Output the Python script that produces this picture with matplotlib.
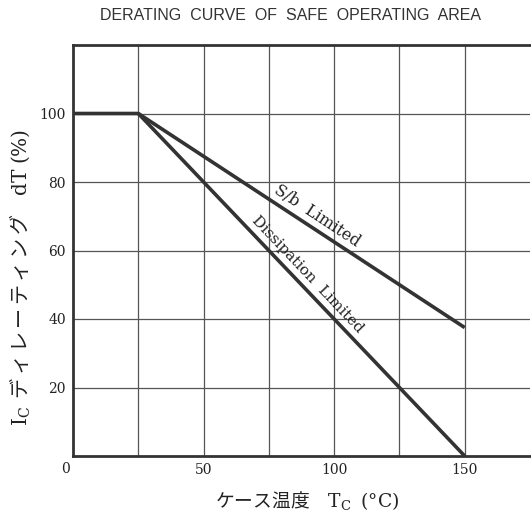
import numpy as np
import matplotlib
matplotlib.use('Agg')
import matplotlib.pyplot as plt

plt.rcParams['mathtext.fontset'] = 'dejavuserif'

# data
sb_x = [0, 25, 150]
sb_y = [100, 100, 37.5]
diss_x = [25, 150]
diss_y = [100, 0]
x_grid = [0, 25, 50, 75, 100, 125, 150, 175]
y_grid = [0, 20, 40, 60, 80, 100, 120]
x_labels = [50, 100, 150]
y_labels = [20, 40, 60, 80, 100]

serif = ['DejaVu Serif']
jp = ['Noto Sans CJK JP', 'DejaVu Serif']
ink = '#333333'
txt = '#222222'

fig = plt.figure(figsize=(5.31, 5.15), dpi=100)
ax = fig.add_axes([73/531, 59/515, 457/531, 411/515])
ax.set_xlim(0, 175)
ax.set_ylim(0, 120)

for x in x_grid[1:-1]:
    ax.axvline(x, color='#555555', lw=0.9, zorder=1)
for y in y_grid[1:-1]:
    ax.axhline(y, color='#555555', lw=0.9, zorder=1)

ax.plot(sb_x, sb_y, color=ink, lw=2.6, solid_capstyle='butt', zorder=3)
ax.plot(diss_x, diss_y, color=ink, lw=2.6, solid_capstyle='butt', zorder=3)

for s in ['left', 'bottom', 'top']:
    ax.spines[s].set_linewidth(2.0)
    ax.spines[s].set_color(ink)
ax.spines['right'].set_visible(False)

ax.set_xticks(x_labels)
ax.set_xticklabels([str(v) for v in x_labels], family=serif, fontsize=10)
ax.set_yticks(y_labels)
ax.set_yticklabels([str(v) for v in y_labels], family=serif, fontsize=10)
ax.tick_params(length=0, pad=5, colors=txt)
ax.text(-3, -1.8, '0', family=serif, fontsize=10, color=txt,
        ha='center', va='top', clip_on=False)

ax.text(93.5, 70.0, 'S/b  Limited', family=serif, fontsize=11.5, color=txt,
        rotation=-33.4, rotation_mode='anchor', ha='center', va='center')
ax.text(89.6, 52.9, 'Dissipation  Limited', family=serif, fontsize=11, color=txt,
        rotation=-46.5, rotation_mode='anchor', ha='center', va='center')

fig.text(290/531, 1 - 16/515, 'DERATING  CURVE  OF  SAFE  OPERATING  AREA',
         family=['Liberation Sans'], fontsize=11.5, color='#333333',
         ha='center', va='center')

# katakana in the reference are set with a little gap between them
kana = r'$\,$'.join('ディレーティング')
fig.text(20/531, 1 - 277/515,
         r'$\mathrm{I_C}\;\,$' + kana + r'$\quad\mathrm{dT\;(\%)}$', family=jp,
         fontsize=14.5, color=txt, rotation=90, ha='center', va='center')
fig.text(307/531, 1 - 500/515, r'ケース温度　$\mathrm{T_C}\;\;\mathrm{(°C)}$',
         family=jp, fontsize=13.5, color=txt, ha='center', va='center')

fig.savefig('out.png', dpi=100)
